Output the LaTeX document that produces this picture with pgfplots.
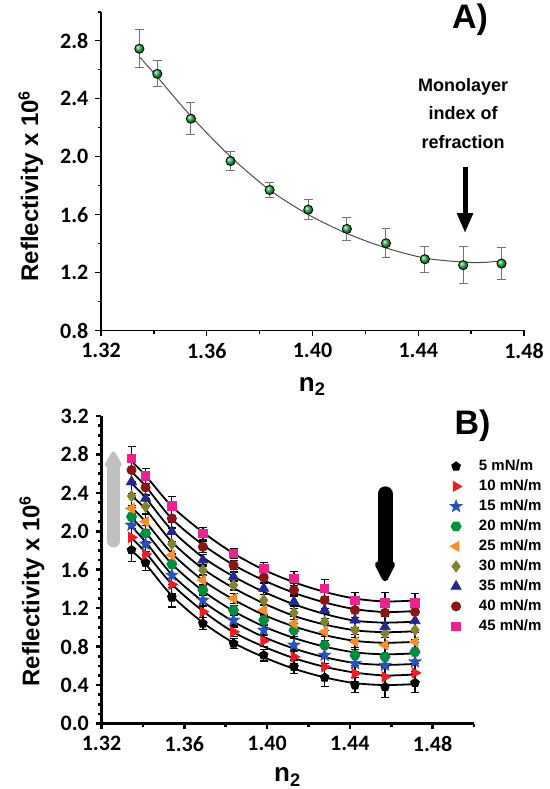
\documentclass[border=0pt]{standalone}
\usepackage{fontspec}
\setmainfont{Liberation Sans}
\newfontfamily\carlito{Carlito}
\usepackage{pgfplots}
\usepackage{pgfplotstable}
\pgfplotsset{compat=1.18}
\usetikzlibrary{arrows.meta,plotmarks}

% colours of the series
\definecolor{cA}{RGB}{45,180,75}
\definecolor{c5}{RGB}{0,0,0}
\definecolor{c10}{RGB}{235,30,35}
\definecolor{c15}{RGB}{45,80,185}
\definecolor{c20}{RGB}{0,140,65}
\definecolor{c25}{RGB}{250,140,45}
\definecolor{c30}{RGB}{130,130,50}
\definecolor{c35}{RGB}{35,40,140}
\definecolor{c40}{RGB}{140,20,25}
\definecolor{c45}{RGB}{235,35,145}

% filled hexagon and star marks (Origin style)
\pgfdeclareplotmark{hexagon*}{%
  \pgfpathmoveto{\pgfpointpolar{0}{1.1\pgfplotmarksize}}%
  \pgfpathlineto{\pgfpointpolar{60}{1.1\pgfplotmarksize}}%
  \pgfpathlineto{\pgfpointpolar{120}{1.1\pgfplotmarksize}}%
  \pgfpathlineto{\pgfpointpolar{180}{1.1\pgfplotmarksize}}%
  \pgfpathlineto{\pgfpointpolar{240}{1.1\pgfplotmarksize}}%
  \pgfpathlineto{\pgfpointpolar{300}{1.1\pgfplotmarksize}}%
  \pgfpathclose
  \pgfusepathqfillstroke
}
\pgfdeclareplotmark{star5*}{%
  \pgfpathmoveto{\pgfpointpolar{90}{1.35\pgfplotmarksize}}%
  \pgfpathlineto{\pgfpointpolar{126}{0.55\pgfplotmarksize}}%
  \pgfpathlineto{\pgfpointpolar{162}{1.35\pgfplotmarksize}}%
  \pgfpathlineto{\pgfpointpolar{198}{0.55\pgfplotmarksize}}%
  \pgfpathlineto{\pgfpointpolar{234}{1.35\pgfplotmarksize}}%
  \pgfpathlineto{\pgfpointpolar{270}{0.55\pgfplotmarksize}}%
  \pgfpathlineto{\pgfpointpolar{306}{1.35\pgfplotmarksize}}%
  \pgfpathlineto{\pgfpointpolar{342}{0.55\pgfplotmarksize}}%
  \pgfpathlineto{\pgfpointpolar{18}{1.35\pgfplotmarksize}}%
  \pgfpathlineto{\pgfpointpolar{54}{0.55\pgfplotmarksize}}%
  \pgfpathclose
  \pgfusepathqfillstroke
}

% panel A: data with errors
\pgfplotstableread{
x       y      e
1.3345  2.745  0.13
1.3413  2.572  0.09
1.3540  2.262  0.11
1.3690  1.970  0.063
1.3838  1.770  0.05
1.3984  1.634  0.07
1.4130  1.501  0.08
1.4278  1.402  0.10
1.4425  1.292  0.09
1.4570  1.251  0.13
1.4715  1.262  0.11
}\dataA

% panel A: fitted curve
\pgfplotstableread{
x       c
1.3345  2.69
1.3413  2.55
1.3540  2.28
1.3690  2.00
1.3838  1.77
1.3984  1.60
1.4130  1.47
1.4278  1.37
1.4425  1.300
1.4570  1.272
1.4650  1.270
1.4715  1.282
}\fitA

% panel B: reflectivity at each surface pressure
\pgfplotstableread{
x       e     b5     b10    b15    b20    b25    b30    b35    b40    b45
1.3345  0.12  1.805  1.937  2.065  2.152  2.238  2.367  2.516  2.638  2.759
1.3413  0.08  1.673  1.763  1.867  1.978  2.100  2.256  2.343  2.457  2.575
1.3540  0.10  1.312  1.447  1.544  1.659  1.753  1.867  1.996  2.134  2.263
1.3690  0.06  1.041  1.163  1.284  1.388  1.492  1.596  1.700  1.839  1.978
1.3838  0.05  0.833  0.954  1.076  1.180  1.301  1.440  1.527  1.649  1.770
1.3984  0.06  0.711  0.861  0.972  1.076  1.180  1.284  1.406  1.520  1.614
1.4130  0.07  0.590  0.694  0.816  0.972  1.041  1.152  1.267  1.388  1.510
1.4278  0.09  0.479  0.590  0.711  0.816  0.954  1.058  1.180  1.284  1.406
1.4425  0.08  0.399  0.520  0.625  0.711  0.850  0.972  1.076  1.180  1.284
1.4570  0.11  0.382  0.486  0.607  0.694  0.816  0.937  1.006  1.152  1.256
1.4715  0.10  0.423  0.527  0.642  0.746  0.850  0.972  1.069  1.162  1.256
}\dataB

% panel B: fitted curves
\pgfplotstableread{
x       f5    f10   f15   f20   f25   f30   f35   f40   f45
1.3345  1.80  1.93  2.05  2.14  2.25  2.37  2.50  2.62  2.73
1.3413  1.66  1.78  1.89  1.99  2.10  2.23  2.35  2.47  2.58
1.3540  1.33  1.45  1.55  1.66  1.77  1.89  2.01  2.13  2.26
1.3690  1.05  1.17  1.27  1.38  1.49  1.61  1.73  1.86  1.99
1.3838  0.84  0.95  1.06  1.17  1.29  1.41  1.53  1.65  1.77
1.3984  0.69  0.80  0.90  1.01  1.13  1.25  1.37  1.49  1.60
1.4130  0.57  0.68  0.78  0.89  1.01  1.12  1.24  1.36  1.47
1.4278  0.48  0.59  0.69  0.80  0.92  1.03  1.14  1.26  1.37
1.4425  0.42  0.53  0.63  0.74  0.86  0.97  1.07  1.19  1.30
1.4570  0.40  0.50  0.61  0.72  0.84  0.95  1.05  1.16  1.27
1.4715  0.41  0.51  0.62  0.73  0.85  0.96  1.06  1.17  1.28
}\fitB

\pgfplotsset{
  origin/.style={
    scale only axis,
    clip=false,
    axis x line*=bottom,
    axis y line*=left,
    tick align=outside,
    major tick length=2.8pt,
    minor tick length=1.6pt,
    /pgf/number format/assume math mode=true,
    tick label style={font=\carlito\bfseries\fontsize{11}{12}\selectfont, black},
    xticklabel style={/pgf/number format/fixed, /pgf/number format/fixed zerofill, /pgf/number format/precision=2},
    yticklabel style={/pgf/number format/fixed, /pgf/number format/fixed zerofill, /pgf/number format/precision=1},
    xlabel style={font=\bfseries\fontsize{13}{14}\selectfont, anchor=base},
    ylabel style={font=\bfseries\fontsize{12}{13}\selectfont, anchor=center},
    xlabel={n\textsubscript{2}},
    ylabel={Reflectivity x 10\textsuperscript{6}},
  },
  bser/.style={
    only marks, color=#1, mark size=2.3pt,
    error bars/y dir=both, error bars/y explicit,
    error bars/error bar style={black, line width=0.6pt},
    error bars/error mark options={rotate=90, mark size=2pt, black, line width=0.6pt},
  },
  bfit/.style={black, line width=0.9pt, smooth, forget plot},
}

\begin{document}
\begin{tikzpicture}
\useasboundingbox (0,0) rectangle (275pt,394.5pt);

% ---------------- panel A ----------------
\begin{axis}[
    origin,
    at={(50.5pt,229.25pt)}, anchor=south west,
    width=211.5pt, height=159.35pt,
    xmin=1.32, xmax=1.48, ymin=0.8, ymax=3.0,
    xtick={1.32,1.36,1.40,1.44,1.48},
    minor xtick={1.34,1.38,1.42,1.46},
    ytick={0.8,1.2,1.6,2.0,2.4,2.8},
    minor ytick={1.0,1.4,1.8,2.2,2.6,3.0},
    axis line style={line width=0.7pt},
    every tick/.style={black, line width=0.7pt},
    xlabel style={at={(axis description cs:0.5,-0.19)}},
    ylabel style={at={(axis description cs:-0.166,0.454)}},
]
\addplot[color=black!70, line width=0.5pt, smooth] table[x=x, y=c] {\fitA};
\addplot[only marks, mark=ball, ball color=cA, mark size=2.3pt,
    error bars/.cd, y dir=both, y explicit,
    error bar style={black!55, line width=0.5pt},
    error mark options={rotate=90, mark size=2.2pt, black!55, line width=0.5pt}]
    table[x=x, y=y, y error=e] {\dataA};

\draw[line width=2.5pt, -{Triangle[width=7.5pt,length=10pt]}]
    (axis cs:1.4577,1.932) -- (axis cs:1.4577,1.472);
\node[align=center, font=\bfseries\fontsize{9}{14.25}\selectfont]
    at (axis cs:1.457,2.30) {Monolayer\\index of\\refraction};
\node[font=\bfseries\fontsize{17}{17}\selectfont] at (axis cs:1.4596,2.942) {A)};
\end{axis}

% ---------------- panel B ----------------
\begin{axis}[
    origin,
    at={(50.75pt,32.75pt)}, anchor=south west,
    width=186.25pt, height=153.75pt,
    xmin=1.32, xmax=1.50, ymin=0, ymax=3.2,
    xtick={1.32,1.36,1.40,1.44,1.48},
    minor xtick={1.34,1.38,1.42,1.46,1.50},
    ytick={0.0,0.4,0.8,1.2,1.6,2.0,2.4,2.8,3.2},
    minor y tick num=3,
    axis line style={line width=1.3pt},
    every tick/.style={black, line width=1.3pt},
    xlabel style={at={(axis description cs:0.5,-0.19)}},
    ylabel style={at={(axis description cs:-0.187,0.4316)}},
    legend cell align=left,
    legend style={at={(rel axis cs:0.935,0.8634)}, anchor=north west,
        draw=none, fill=none, inner sep=0pt, row sep=2pt,
        font=\bfseries\fontsize{7.5}{8}\selectfont,
        nodes={inner sep=0.5pt, text height=5.5pt, text depth=1.5pt},
        /tikz/every odd column/.append style={column sep=8pt}},
]
\draw[line width=6.5pt, color=black!25, line cap=round,
    -{Triangle[width=9.5pt,length=9pt,round]}]
    (axis cs:1.3257,1.90) -- (axis cs:1.3257,2.83);
\draw[line width=7.5pt, color=black, line cap=round,
    -{Triangle[width=11pt,length=12pt,round]}]
    (axis cs:1.457,2.39) -- (axis cs:1.457,1.48);
\node[font=\bfseries\fontsize{17}{17}\selectfont] at (axis cs:1.4993,3.104) {B)};

\addplot[bser=c5, mark=pentagon*] table[x=x, y=b5, y error=e] {\dataB};
\addlegendentry{5 mN/m}
\addplot[bser=c10, mark=triangle*, mark size=2.9pt, mark options={rotate=-90}] table[x=x, y=b10, y error=e] {\dataB};
\addlegendentry{10 mN/m}
\addplot[bser=c15, mark=star5*] table[x=x, y=b15, y error=e] {\dataB};
\addlegendentry{15 mN/m}
\addplot[bser=c20, mark=hexagon*] table[x=x, y=b20, y error=e] {\dataB};
\addlegendentry{20 mN/m}
\addplot[bser=c25, mark=triangle*, mark size=2.9pt, mark options={rotate=90}] table[x=x, y=b25, y error=e] {\dataB};
\addlegendentry{25 mN/m}
\addplot[bser=c30, mark=diamond*, mark size=2.8pt] table[x=x, y=b30, y error=e] {\dataB};
\addlegendentry{30 mN/m}
\addplot[bser=c35, mark=triangle*, mark size=2.9pt] table[x=x, y=b35, y error=e] {\dataB};
\addlegendentry{35 mN/m}
\addplot[bser=c40, mark=*] table[x=x, y=b40, y error=e] {\dataB};
\addlegendentry{40 mN/m}
\addplot[bser=c45, mark=square*, mark size=2.1pt] table[x=x, y=b45, y error=e] {\dataB};
\addlegendentry{45 mN/m}

\addplot[bfit] table[x=x, y=f5] {\fitB};
\addplot[bfit] table[x=x, y=f10] {\fitB};
\addplot[bfit] table[x=x, y=f15] {\fitB};
\addplot[bfit] table[x=x, y=f20] {\fitB};
\addplot[bfit] table[x=x, y=f25] {\fitB};
\addplot[bfit] table[x=x, y=f30] {\fitB};
\addplot[bfit] table[x=x, y=f35] {\fitB};
\addplot[bfit] table[x=x, y=f40] {\fitB};
\addplot[bfit] table[x=x, y=f45] {\fitB};
\end{axis}
\end{tikzpicture}
\end{document}
